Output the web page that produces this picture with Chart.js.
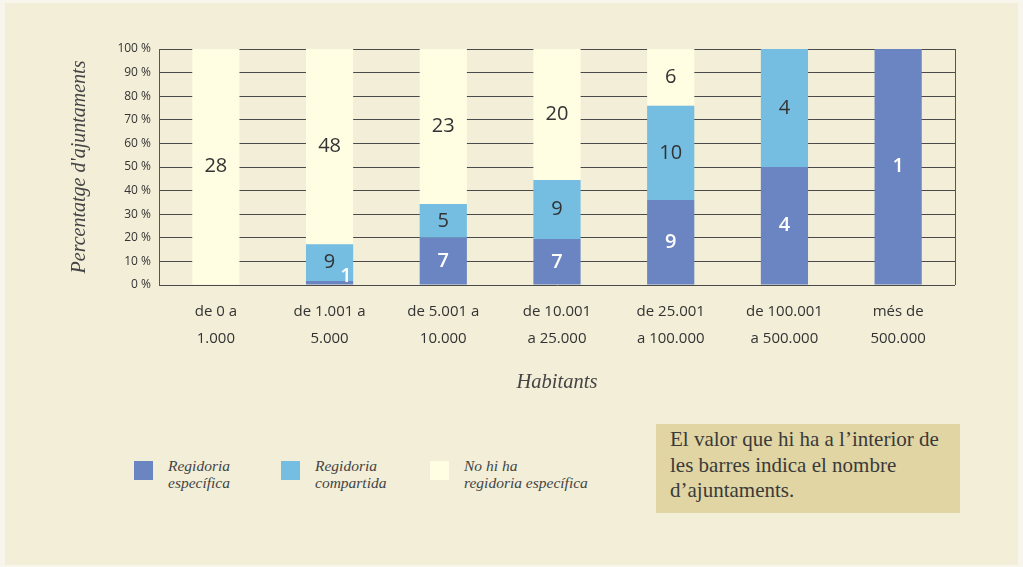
<!DOCTYPE html>
<html>
<head>
<meta charset="utf-8">
<script src="https://cdn.jsdelivr.net/npm/chart.js@4"></script>
<style>
  html, body { margin: 0; padding: 0; background: #f8f6ec; }
  #panel { position: absolute; left: 5px; top: 3px; width: 1013px; height: 562px; background: #f2eed8; }
  #wrap { position: absolute; left: 0; top: 0; width: 1023px; height: 400px; }
  .leg { position: absolute; top: 461px; font: italic 15.5px "Liberation Serif", serif; color: #444; line-height: 16.5px; }
  .leg .sw { position: absolute; left: 0; top: 0; width: 19px; height: 19px; }
  .leg span { position: absolute; left: 34px; top: -3px; white-space: nowrap; }
  #note { position: absolute; left: 656px; top: 424px; width: 290px; height: 89px; padding-left: 14px; background: #e0d5a3;
          font: 21px "Liberation Serif", serif; color: #3a3a3a; line-height: 25.5px; box-sizing: content-box; }
  #note div { padding-top: 3px; white-space: nowrap; }
</style>
</head>
<body>
<div id="panel"></div>
<div id="wrap"><canvas id="chart" width="1023" height="400"></canvas></div>

<div class="leg" style="left:134px"><div class="sw" style="background:#6b84c2"></div><span>Regidoria<br>específica</span></div>
<div class="leg" style="left:281px"><div class="sw" style="background:#75bde1"></div><span>Regidoria<br>compartida</span></div>
<div class="leg" style="left:430px"><div class="sw" style="background:#fffde2"></div><span>No hi ha<br>regidoria específica</span></div>

<div id="note"><div>El valor que hi ha a l’interior de<br>les barres indica el nombre<br>d’ajuntaments.</div></div>

<script>
// number of ajuntaments per population band
const categories = [
  ['de 0 a', '1.000'],
  ['de 1.001 a', '5.000'],
  ['de 5.001 a', '10.000'],
  ['de 10.001', 'a 25.000'],
  ['de 25.001', 'a 100.000'],
  ['de 100.001', 'a 500.000'],
  ['més de', '500.000']
];
const especifica = [0, 1, 7, 7, 9, 4, 1];
const compartida = [0, 9, 5, 9, 10, 4, 0];
const noHiHa = [28, 48, 23, 20, 6, 0, 0];

const totals = categories.map((c, i) => especifica[i] + compartida[i] + noHiHa[i]);
const pct = arr => arr.map((v, i) => v / totals[i] * 100);

const counts = [especifica, compartida, noHiHa];
const labelColors = ['#ffffff', '#333333', '#333333'];

// numbers inside the bars
const barLabels = {
  id: 'barLabels',
  afterDatasetsDraw(chart) {
    const ctx = chart.ctx;
    ctx.save();
    ctx.textAlign = 'center';
    ctx.textBaseline = 'middle';
    chart.data.datasets.forEach((ds, di) => {
      ctx.font = (di === 0 ? '600 ' : '') + '20px "Open Sans", sans-serif';
      chart.getDatasetMeta(di).data.forEach((bar, i) => {
        const n = counts[di][i];
        if (!n) return;
        const h = Math.abs(bar.base - bar.y);
        let x = bar.x, y = (bar.y + bar.base) / 2;
        if (h < 16) { x += bar.width * 0.35; y = bar.base - 8; }
        ctx.fillStyle = labelColors[di];
        ctx.fillText(String(n), x, y);
      });
    });
    ctx.restore();
  }
};

// right-hand frame of the plot
const frame = {
  id: 'frame',
  afterDatasetsDraw(chart) {
    const a = chart.chartArea, ctx = chart.ctx;
    ctx.save();
    ctx.strokeStyle = '#555';
    ctx.lineWidth = 1;
    ctx.beginPath();
    ctx.moveTo(Math.round(a.right) + 0.5, a.top);
    ctx.lineTo(Math.round(a.right) + 0.5, a.bottom);
    ctx.stroke();
    ctx.restore();
  }
};

new Chart(document.getElementById('chart'), {
  type: 'bar',
  data: {
    labels: categories,
    datasets: [
      { label: 'Regidoria específica', data: pct(especifica), backgroundColor: '#6b84c2' },
      { label: 'Regidoria compartida', data: pct(compartida), backgroundColor: '#75bde1' },
      { label: 'No hi ha regidoria específica', data: pct(noHiHa), backgroundColor: '#fffde2' }
    ]
  },
  options: {
    responsive: false,
    animation: false,
    layout: { padding: { left: 68, right: 68, top: 49, bottom: 0 } },
    datasets: { bar: { barPercentage: 0.83, categoryPercentage: 0.5 } },
    plugins: { legend: { display: false }, tooltip: { enabled: false } },
    scales: {
      x: {
        stacked: true,
        grid: { display: false, drawTicks: false },
        border: { display: false },
        afterFit: s => { s.height = 115; },
        ticks: {
          color: '#333', padding: 13, maxRotation: 0,
          font: { family: '"Open Sans", sans-serif', size: 15, lineHeight: 1.8 }
        },
        title: {
          display: true, text: 'Habitants', color: '#444',
          font: { family: '"Liberation Serif", serif', size: 20.5, style: 'italic' },
          padding: { top: 0, bottom: 5 }
        }
      },
      y: {
        stacked: true,
        min: 0, max: 100,
        afterFit: s => { s.width = 159 - 68; },
        grid: { color: '#4a4a4a', lineWidth: 1, drawTicks: false },
        border: { color: '#555', width: 1 },
        ticks: {
          stepSize: 10, padding: 8, color: '#333',
          font: { family: '"Open Sans", sans-serif', size: 12 },
          callback: v => v + ' %'
        },
        title: {
          display: true, text: "Percentatge d'ajuntaments", color: '#444',
          font: { family: '"Liberation Serif", serif', size: 20, style: 'italic' },
          padding: { top: 0, bottom: 0 }
        }
      }
    }
  },
  plugins: [barLabels, frame]
});
</script>
</body>
</html>
